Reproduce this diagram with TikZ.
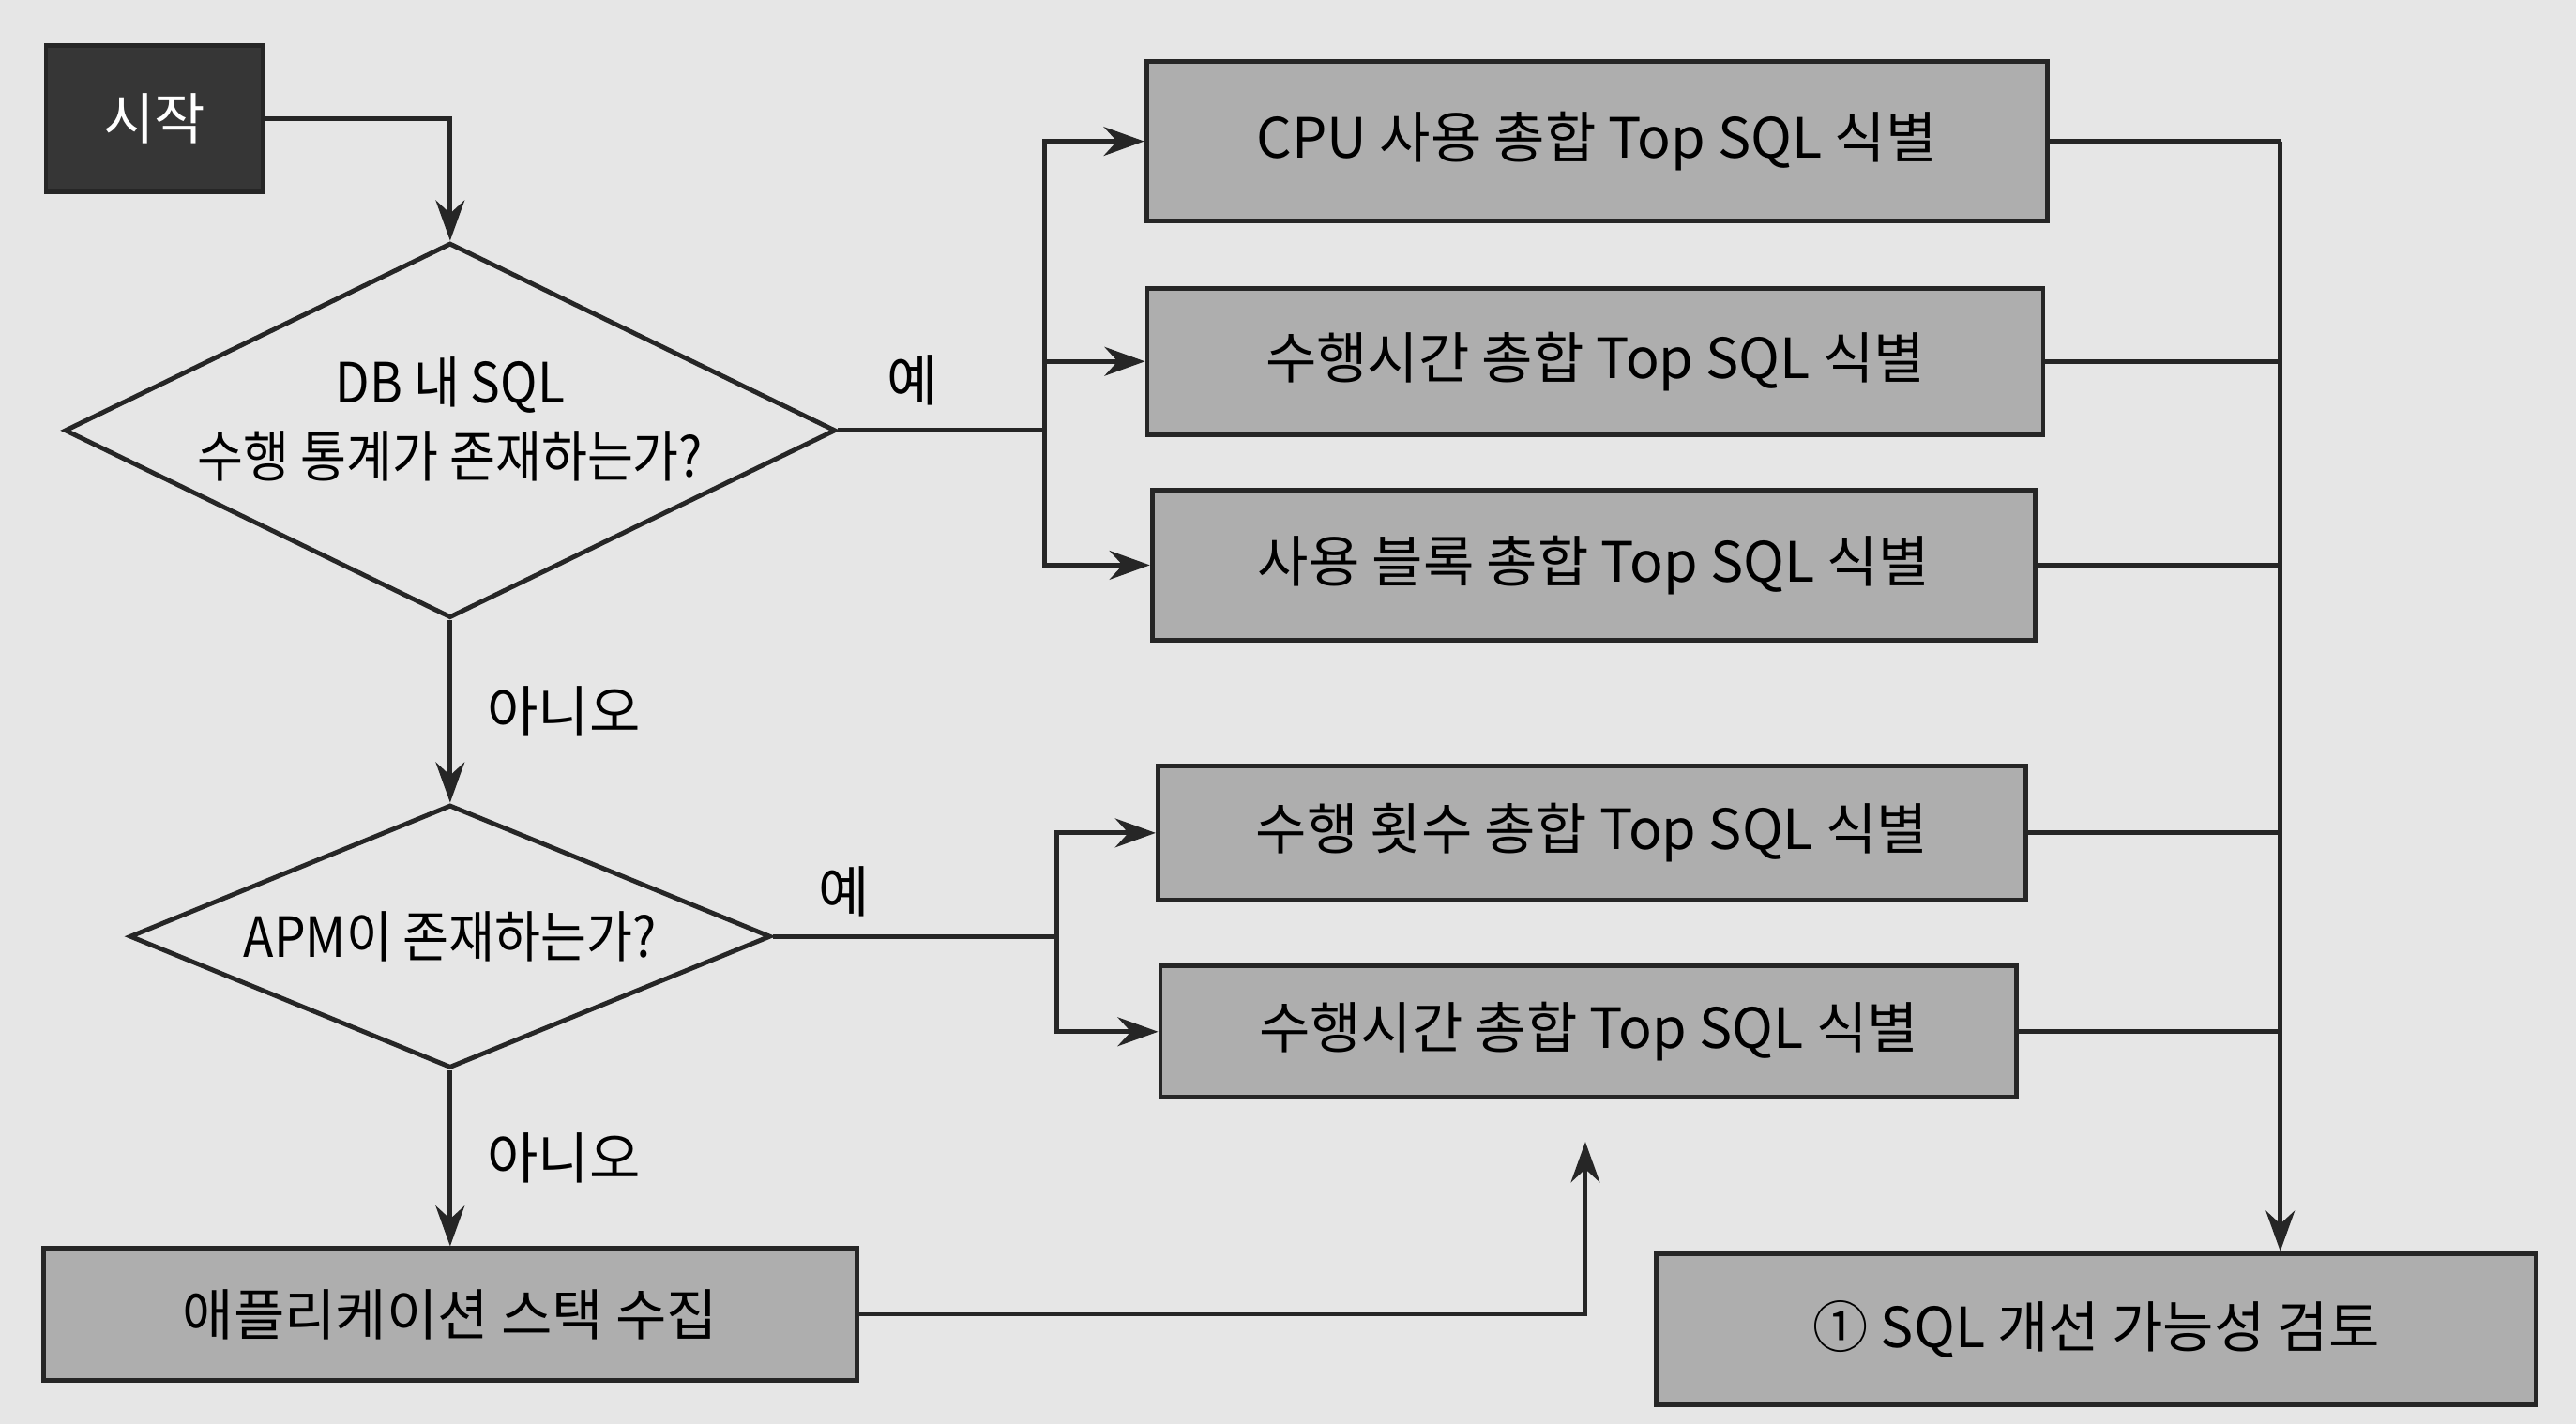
\documentclass[tikz,border=0pt]{standalone}
\usepackage{fontspec}
\setmainfont{Noto Sans CJK KR}
\newfontfamily\narrowfont{Noto Sans CJK KR}[FakeStretch=0.9]
\usetikzlibrary{arrows.meta}
\usetikzlibrary{shapes.geometric}
\usetikzlibrary{positioning}
\definecolor{paper}{HTML}{E6E6E6}
\definecolor{boxfill}{HTML}{AEAEAE}
\definecolor{startfill}{HTML}{363636}
\tikzset{
  every node/.style={font=\fontsize{9.6}{12}\selectfont},
  line/.style={draw=black!85, line width=0.8pt},
  arr/.style={line, -{Stealth[length=7pt,width=5pt]}},
  stepbox/.style={rectangle, draw=black!85, line width=0.8pt, fill=boxfill, inner sep=0pt},
  startbox/.style={stepbox, fill=startfill, text=white},
  decision/.style={diamond, draw=black!85, line width=0.8pt, inner sep=0pt},
  question/.style={align=center, font=\narrowfont\fontsize{9.6}{12.8}\selectfont},
  answer/.style={font=\fontsize{9.6}{12}\selectfont, inner sep=1pt},
}
\begin{document}
\begin{tikzpicture}[x=0.01cm, y=-0.01cm]
    \fill[paper] (0,0) rectangle (1568,867);
    \useasboundingbox (0,0) rectangle (1568,867);

    % left column
    \node[startbox, minimum width=1.32cm, minimum height=0.89cm] (start) at (94,72) {시작};
    \node[decision, minimum width=4.69cm, minimum height=2.28cm] (db) at (274,262) {};
    \node[question] (dbtext) at ([yshift=2pt]db.center) {DB 내 SQL\\수행 통계가 존재하는가?};
    \node[decision, minimum width=3.90cm, minimum height=1.60cm] (apm) at (274,570) {};
    \node[question] (apmtext) at (apm.center) {APM이 존재하는가?};
    \node[stepbox, minimum width=4.95cm, minimum height=0.80cm] (stack) at (274,800)
      {애플리케이션 스택 수집};

    % right column
    \node[stepbox, minimum width=5.48cm, minimum height=0.97cm] (cpu) at (972,86)
      {CPU 사용 총합 Top SQL 식별};
    \node[stepbox, minimum width=5.45cm, minimum height=0.89cm] (elapsed) at (971,220)
      {수행시간 총합 Top SQL 식별};
    \node[stepbox, minimum width=5.37cm, minimum height=0.91cm] (block) at (970,344)
      {사용 블록 총합 Top SQL 식별};
    \node[stepbox, minimum width=5.28cm, minimum height=0.82cm] (exec) at (969,507)
      {수행 횟수 총합 Top SQL 식별};
    \node[stepbox, minimum width=5.21cm, minimum height=0.80cm] (apmtime) at (967,628)
      {수행시간 총합 Top SQL 식별};
    \node[stepbox, minimum width=5.35cm, minimum height=0.92cm] (review) at (1276,809)
      {① SQL 개선 가능성 검토};

    \coordinate (dbsplit) at (636,262);
    \coordinate (apmsplit) at (643,570);
    \coordinate (merge) at (1388,86);
    \coordinate (stackup) at (965,695);

    % connectors
    \draw[arr] (start.east) -| (db.north);
    \draw[line] (db.east) -- node[answer, pos=0.36, above=3pt] (dbyes) {예} (dbsplit);
    \draw[arr] (dbsplit) |- (cpu.west);
    \draw[arr] (dbsplit) -- (elapsed.west -| dbsplit) -- (elapsed.west);
    \draw[arr] (dbsplit) |- (block.west);
    \draw[arr] (db.south) -- node[answer, right=5pt] (dbno) {아니오} (apm.north);
    \draw[line] (apm.east) -- node[answer, pos=0.25, above=2pt] (apmyes) {예} (apmsplit);
    \draw[arr] (apmsplit) |- (exec.west);
    \draw[arr] (apmsplit) |- (apmtime.west);
    \draw[arr] (apm.south) -- node[answer, right=5pt] (apmno) {아니오} (stack.north);
    \draw[arr] (stack.east) -| (stackup);

    \draw[line] (cpu.east) -- (merge);
    \draw[arr] (merge) -- (review.north -| merge);
    \draw[line] (elapsed.east) -- (elapsed.east -| merge);
    \draw[line] (block.east) -- (block.east -| merge);
    \draw[line] (exec.east) -- (exec.east -| merge);
    \draw[line] (apmtime.east) -- (apmtime.east -| merge);
\end{tikzpicture}
\end{document}
